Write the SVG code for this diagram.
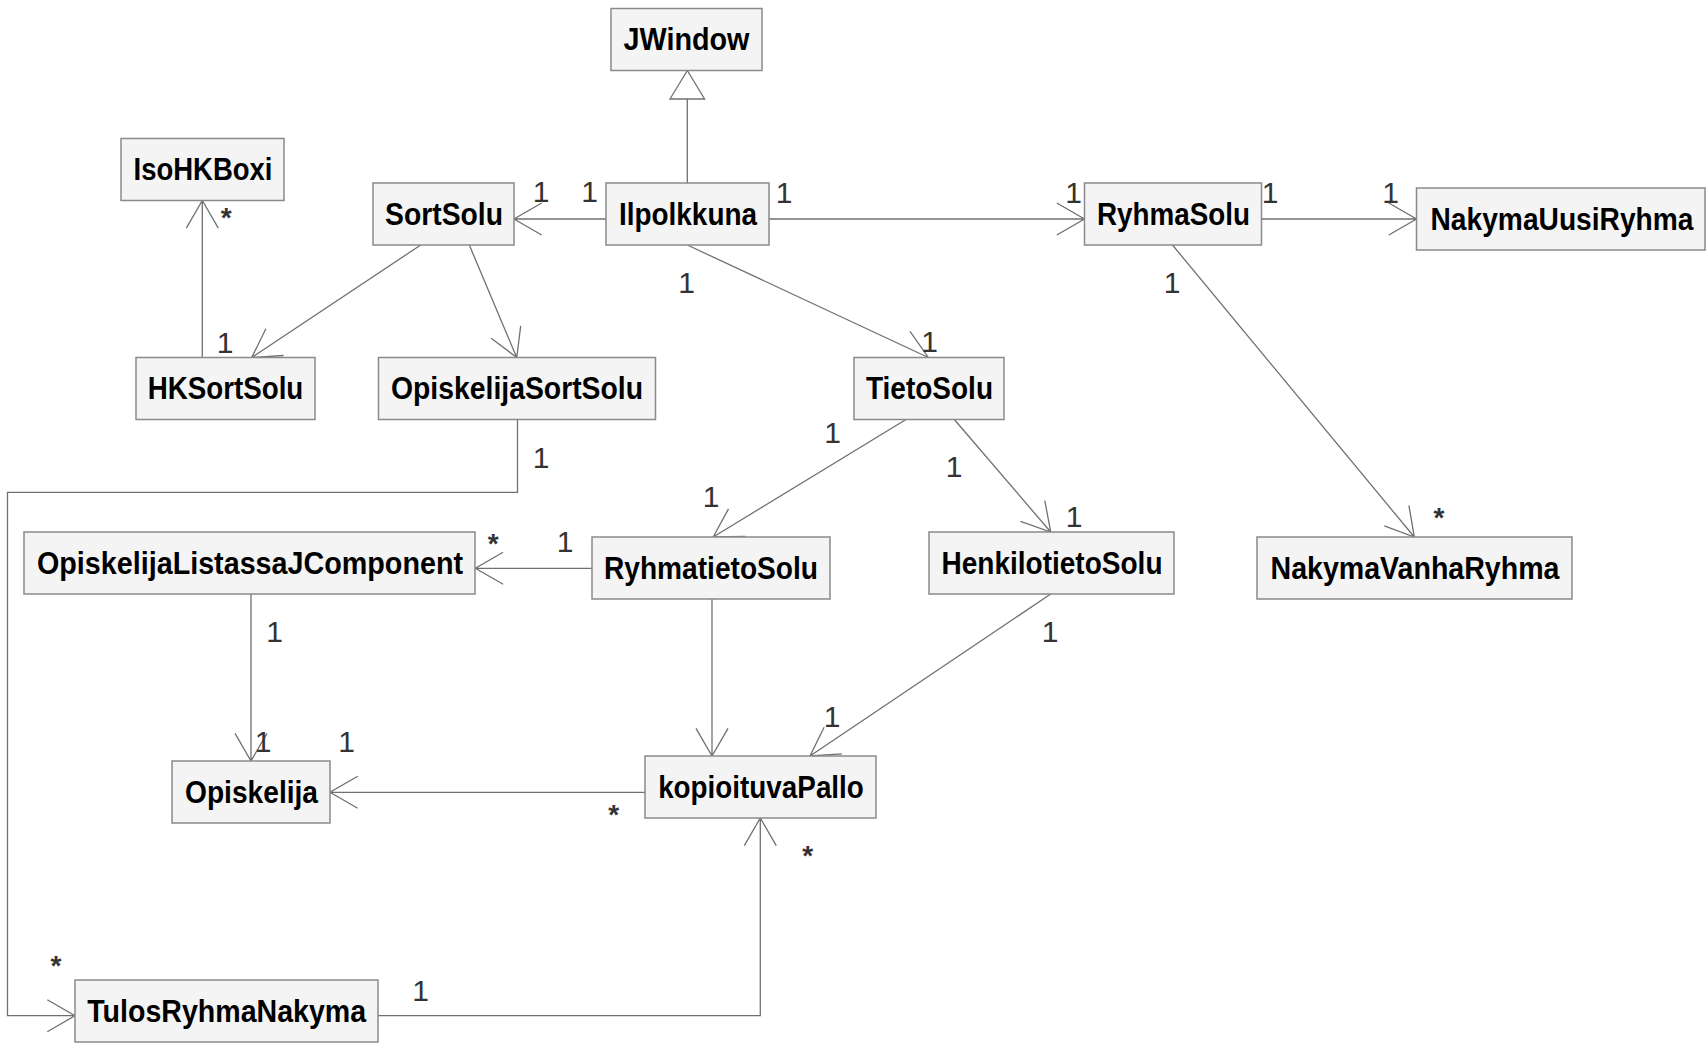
<svg xmlns="http://www.w3.org/2000/svg" width="1706" height="1045" viewBox="0 0 1706 1045">
<style>
.bg{fill:#ffffff}
.box{fill:#f4f4f4;stroke:#8a8a8a;stroke-width:1.5}
.name{font-family:"Liberation Sans",Arial,sans-serif;font-weight:bold;font-size:31px;fill:#000;text-anchor:middle}
.ln{fill:none;stroke:#707070;stroke-width:1.3}
.tri{fill:#ffffff;stroke:#707070;stroke-width:1.3}
.m{font-family:"Liberation Sans",Arial,sans-serif;font-size:30px;fill:#333;text-anchor:middle}
.s{font-family:"Liberation Sans",Arial,sans-serif;font-size:28px;font-weight:bold;fill:#333;text-anchor:middle}
</style>
<rect class="bg" x="0" y="0" width="1706" height="1045"/>
<g id="connectors">
  <!-- generalization Ilpolkkuna -> JWindow -->
  <path class="ln" d="M687.3,183 V99"/>
  <polygon class="tri" points="687.3,70.5 670,99 704.6,99"/>
  <!-- Ilpolkkuna -> SortSolu -->
  <path class="ln" d="M606,219 H514 M541.7,203 L514,219 L541.7,235"/>
  <!-- Ilpolkkuna -> RyhmaSolu -->
  <path class="ln" d="M769,219 H1084.5 M1056.8,203 L1084.5,219 L1056.8,235"/>
  <!-- RyhmaSolu -> NakymaUusiRyhma -->
  <path class="ln" d="M1261.5,219 H1416.5 M1388.8,203 L1416.5,219 L1388.8,235"/>
  <!-- RyhmaSolu -> NakymaVanhaRyhma -->
  <path class="ln" d="M1172.5,245 L1414.3,537 M1408.9,505.4 L1414.3,537 L1384.3,525.9"/>
  <!-- Ilpolkkuna -> TietoSolu -->
  <path class="ln" d="M687.3,245 L928.3,357.5 M910,331.3 L928.3,357.5 L896.4,360.3"/>
  <!-- SortSolu -> HKSortSolu -->
  <path class="ln" d="M420.7,245 L251.7,357.5 M283.6,355.5 L251.7,357.5 L265.9,328.8"/>
  <!-- SortSolu -> OpiskelijaSortSolu -->
  <path class="ln" d="M469.3,245 L516.7,357.5 M520.7,325.8 L516.7,357.5 L491.2,338.2"/>
  <!-- HKSortSolu -> IsoHKBoxi -->
  <path class="ln" d="M202.3,357.5 V200.5 M186.3,228.2 L202.3,200.5 L218.3,228.2"/>
  <!-- OpiskelijaSortSolu -> TulosRyhmaNakyma -->
  <path class="ln" d="M517.5,419.5 V492.3 H7.5 V1015.7 H75 M47.3,999.7 L75,1015.7 L47.3,1031.7"/>
  <!-- TietoSolu -> RyhmatietoSolu -->
  <path class="ln" d="M906,419.5 L713.2,537 M745.2,536.3 L713.2,537 L728.5,508.9"/>
  <!-- TietoSolu -> HenkilotietoSolu -->
  <path class="ln" d="M954.3,419.5 L1050.7,532 M1044.8,500.6 L1050.7,532 L1020.5,521.4"/>
  <!-- RyhmatietoSolu -> OpiskelijaListassaJComponent -->
  <path class="ln" d="M592,568.3 H475.4 M503.1,552.3 L475.4,568.3 L503.1,584.3"/>
  <!-- RyhmatietoSolu -> kopioituvaPallo -->
  <path class="ln" d="M712,599 V756 M696,728.3 L712,756 L728,728.3"/>
  <!-- HenkilotietoSolu -> kopioituvaPallo -->
  <path class="ln" d="M1050.7,594 L810,756 M841.9,753.8 L810,756 L824.1,727.2"/>
  <!-- OpiskelijaListassaJComponent -> Opiskelija -->
  <path class="ln" d="M251,594 V761 M235,733.3 L251,761 L267,733.3"/>
  <!-- kopioituvaPallo -> Opiskelija -->
  <path class="ln" d="M645,792.3 H330 M357.7,776.3 L330,792.3 L357.7,808.3"/>
  <!-- TulosRyhmaNakyma -> kopioituvaPallo -->
  <path class="ln" d="M378,1015.7 H760.3 V818 M744.3,845.7 L760.3,818 L776.3,845.7"/>
  <!-- multiplicities -->
  <g id="labels">
    <text class="m" x="541" y="202.3">1</text>
    <text class="m" x="589.5" y="202">1</text>
    <text class="m" x="784" y="203">1</text>
    <text class="m" x="1073.5" y="202.7">1</text>
    <text class="m" x="1270" y="202.7">1</text>
    <text class="m" x="1390.5" y="202.7">1</text>
    <text class="m" x="1172" y="292.7">1</text>
    <text class="s" x="1439" y="526.7">*</text>
    <text class="m" x="686.5" y="292.7">1</text>
    <text class="m" x="929.7" y="352">1</text>
    <text class="s" x="226.2" y="227">*</text>
    <text class="m" x="225" y="352.7">1</text>
    <text class="m" x="541" y="468">1</text>
    <text class="s" x="56" y="975">*</text>
    <text class="m" x="832.5" y="443.3">1</text>
    <text class="m" x="711" y="507.3">1</text>
    <text class="m" x="954" y="476.7">1</text>
    <text class="m" x="1074" y="526.7">1</text>
    <text class="s" x="493.2" y="552.7">*</text>
    <text class="m" x="565" y="551.5">1</text>
    <text class="m" x="1050" y="641.7">1</text>
    <text class="m" x="832" y="726.7">1</text>
    <text class="m" x="274.5" y="641.7">1</text>
    <text class="m" x="263" y="751.7">1</text>
    <text class="m" x="346.5" y="751.7">1</text>
    <text class="s" x="613.8" y="824">*</text>
    <text class="s" x="807.8" y="865">*</text>
    <text class="m" x="420.5" y="1000.7">1</text>
  </g>
</g>
<g id="JWindow"><rect class="box" x="611" y="8.5" width="151" height="62"/><text class="name" x="686.5" y="50" textLength="126" lengthAdjust="spacingAndGlyphs">JWindow</text></g>
<g id="IsoHKBoxi"><rect class="box" x="121" y="138.5" width="163" height="62"/><text class="name" x="203" y="180" textLength="139" lengthAdjust="spacingAndGlyphs">IsoHKBoxi</text></g>
<g id="SortSolu"><rect class="box" x="373" y="183" width="141" height="62"/><text class="name" x="444" y="224.5" textLength="118" lengthAdjust="spacingAndGlyphs">SortSolu</text></g>
<g id="Ilpolkkuna"><rect class="box" x="606" y="183" width="163" height="62"/><text class="name" x="688" y="224.5" textLength="138" lengthAdjust="spacingAndGlyphs">Ilpolkkuna</text></g>
<g id="RyhmaSolu"><rect class="box" x="1084.5" y="183" width="177" height="62"/><text class="name" x="1173.5" y="224.5" textLength="153" lengthAdjust="spacingAndGlyphs">RyhmaSolu</text></g>
<g id="NakymaUusiRyhma"><rect class="box" x="1416.5" y="188" width="288.5" height="62"/><text class="name" x="1562" y="229.5" textLength="263" lengthAdjust="spacingAndGlyphs">NakymaUusiRyhma</text></g>
<g id="HKSortSolu"><rect class="box" x="136" y="357.5" width="179" height="62"/><text class="name" x="225.5" y="399" textLength="155.6" lengthAdjust="spacingAndGlyphs">HKSortSolu</text></g>
<g id="OpiskelijaSortSolu"><rect class="box" x="378.5" y="357.5" width="277" height="62"/><text class="name" x="517" y="399" textLength="252" lengthAdjust="spacingAndGlyphs">OpiskelijaSortSolu</text></g>
<g id="TietoSolu"><rect class="box" x="854" y="357.5" width="150" height="62"/><text class="name" x="929.5" y="399" textLength="127" lengthAdjust="spacingAndGlyphs">TietoSolu</text></g>
<g id="RyhmatietoSolu"><rect class="box" x="592" y="537" width="238" height="62"/><text class="name" x="711" y="578.5" textLength="214" lengthAdjust="spacingAndGlyphs">RyhmatietoSolu</text></g>
<g id="HenkilotietoSolu"><rect class="box" x="929" y="532" width="245" height="62"/><text class="name" x="1052" y="573.5" textLength="221" lengthAdjust="spacingAndGlyphs">HenkilotietoSolu</text></g>
<g id="NakymaVanhaRyhma"><rect class="box" x="1257" y="537" width="315" height="62"/><text class="name" x="1415" y="578.5" textLength="289" lengthAdjust="spacingAndGlyphs">NakymaVanhaRyhma</text></g>
<g id="OpiskelijaListassaJComponent"><rect class="box" x="24" y="532" width="451" height="62"/><text class="name" x="250" y="573.5" textLength="426" lengthAdjust="spacingAndGlyphs">OpiskelijaListassaJComponent</text></g>
<g id="Opiskelija"><rect class="box" x="172" y="761" width="158" height="62"/><text class="name" x="251.5" y="802.5" textLength="133" lengthAdjust="spacingAndGlyphs">Opiskelija</text></g>
<g id="kopioituvaPallo"><rect class="box" x="645" y="756" width="231" height="62"/><text class="name" x="761" y="797.5" textLength="205.7" lengthAdjust="spacingAndGlyphs">kopioituvaPallo</text></g>
<g id="TulosRyhmaNakyma"><rect class="box" x="75" y="980" width="303" height="62"/><text class="name" x="226.7" y="1021.5" textLength="279" lengthAdjust="spacingAndGlyphs">TulosRyhmaNakyma</text></g>
</svg>
